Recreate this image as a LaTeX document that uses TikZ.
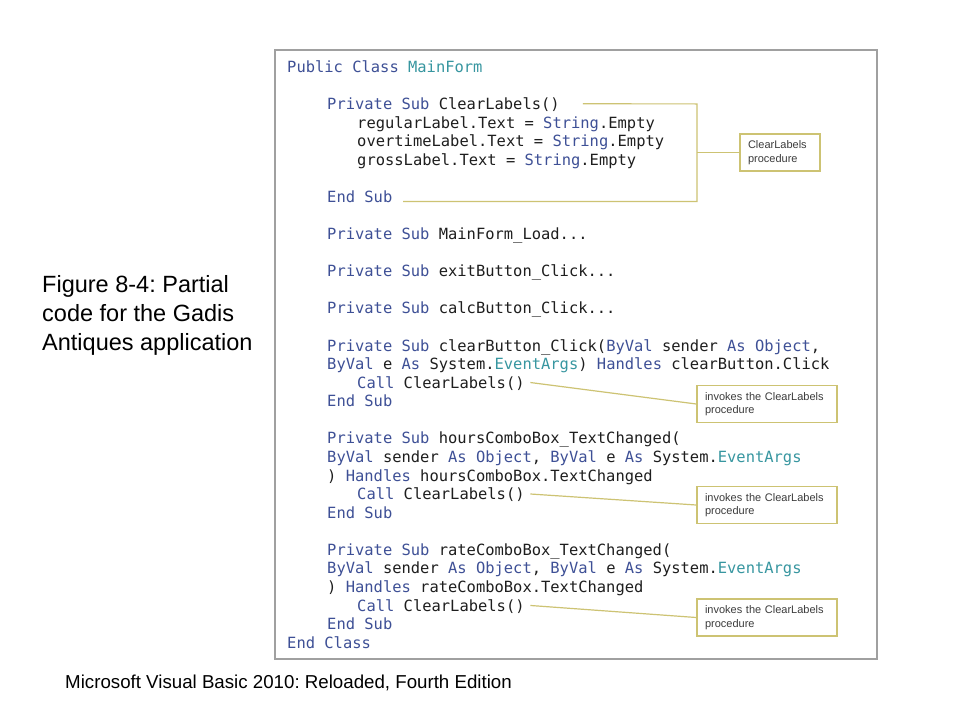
\documentclass[tikz,border=0pt]{standalone}
\usepackage{fontspec}
\setmainfont{Liberation Sans}
\newfontfamily\codefont{DejaVu Sans Mono}
\definecolor{kwc}{RGB}{62,80,150}
\definecolor{tyc}{RGB}{55,150,160}
\definecolor{codetxt}{RGB}{30,30,30}
\definecolor{calc}{RGB}{205,195,115}
\definecolor{framec}{RGB}{160,160,160}
\definecolor{boxtxt}{RGB}{60,60,60}
\newcommand\KW[1]{\textcolor{kwc}{#1}}
\newcommand\TY[1]{\textcolor{tyc}{#1}}
\frenchspacing
\begin{document}
\begin{tikzpicture}[x=1pt,y=-1pt,
  codeline/.style={anchor=base west, inner sep=0pt, font=\codefont\fontsize{15.45}{18}\selectfont, text=codetxt, text height=11.3pt, text depth=0pt},
  callout/.style={draw=calc, line width=1.2pt},
  cbox/.style={draw=calc, line width=1.4pt, fill=white, inner xsep=8pt, inner ysep=0pt, align=left, font=\fontsize{11}{13.5}\selectfont, text=boxtxt},
  captxt/.style={anchor=base west, inner sep=0pt, font=\fontsize{23.5}{28}\selectfont, text=black}
]
\useasboundingbox[fill=white] (0,0) rectangle (960,720);
% frame
\draw[framec, line width=2pt] (275,50) rectangle (877,659);
% code lines
\newcommand\ly[1]{72.3+18.58*#1}
\node[codeline] (l0) at (287,{\ly{0}}) {\KW{Public Class} \TY{MainForm}};
\node[codeline] (l2) at (327,{\ly{2}}) {\KW{Private Sub} ClearLabels()};
\node[codeline] (l3) at (357,{\ly{3}}) {regularLabel.Text = \KW{String}.Empty};
\node[codeline] (l4) at (357,{\ly{4}}) {overtimeLabel.Text = \KW{String}.Empty};
\node[codeline] (l5) at (357,{\ly{5}}) {grossLabel.Text = \KW{String}.Empty};
\node[codeline] (l7) at (327,{\ly{7}}) {\KW{End Sub}};
\node[codeline] (l9) at (327,{\ly{9}}) {\KW{Private Sub} MainForm\_Load...};
\node[codeline] (l11) at (327,{\ly{11}}) {\KW{Private Sub} exitButton\_Click...};
\node[codeline] (l13) at (327,{\ly{13}}) {\KW{Private Sub} calcButton\_Click...};
\node[codeline] (l15) at (327,{\ly{15}}) {\KW{Private Sub} clearButton\_Click(\KW{ByVal} sender \KW{As Object},};
\node[codeline] (l16) at (327,{\ly{16}}) {\KW{ByVal} e \KW{As} System.\TY{EventArgs}) \KW{Handles} clearButton.Click};
\node[codeline] (l17) at (357,{\ly{17}}) {\KW{Call} ClearLabels()};
\node[codeline] (l18) at (327,{\ly{18}}) {\KW{End Sub}};
\node[codeline] (l20) at (327,{\ly{20}}) {\KW{Private Sub} hoursComboBox\_TextChanged(};
\node[codeline] (l21) at (327,{\ly{21}}) {\KW{ByVal} sender \KW{As Object}, \KW{ByVal} e \KW{As} System.\TY{EventArgs}};
\node[codeline] (l22) at (327,{\ly{22}}) {) \KW{Handles} hoursComboBox.TextChanged};
\node[codeline] (l23) at (357,{\ly{23}}) {\KW{Call} ClearLabels()};
\node[codeline] (l24) at (327,{\ly{24}}) {\KW{End Sub}};
\node[codeline] (l26) at (327,{\ly{26}}) {\KW{Private Sub} rateComboBox\_TextChanged(};
\node[codeline] (l27) at (327,{\ly{27}}) {\KW{ByVal} sender \KW{As Object}, \KW{ByVal} e \KW{As} System.\TY{EventArgs}};
\node[codeline] (l28) at (327,{\ly{28}}) {) \KW{Handles} rateComboBox.TextChanged};
\node[codeline] (l29) at (357,{\ly{29}}) {\KW{Call} ClearLabels()};
\node[codeline] (l30) at (327,{\ly{30}}) {\KW{End Sub}};
\node[codeline] (l31) at (287,{\ly{31}}) {\KW{End Class}};
% callout boxes
\node[cbox, minimum width=80pt, minimum height=37pt, text width=64pt] (cb1) at (780,152.5) {ClearLabels\\procedure};
\node[cbox, minimum width=140pt, minimum height=37.5pt, text width=124pt] (cb2) at (767,404) {invokes the ClearLabels\\procedure};
\node[cbox, minimum width=140pt, minimum height=37pt, text width=124pt] (cb3) at (767,505) {invokes the ClearLabels\\procedure};
\node[cbox, minimum width=140pt, minimum height=37pt, text width=124pt] (cb4) at (767,617.5) {invokes the ClearLabels\\procedure};
% bracket
\coordinate (bt) at ([xshift=23pt]l2.east);
\coordinate (btr) at (697,103.9);
\coordinate (bbr) at (697,201.5);
\coordinate (bb) at (403,201.5);
\coordinate (bj) at (697,152.5);
\draw[callout] (bt) -- (btr) -- (bbr) -- (bb);
\draw[callout] (bj) -- (cb1.west);
% call connectors
\draw[callout] ([xshift=5.5pt]l17.east) -- (cb2.west);
\draw[callout] ([xshift=5.5pt]l23.east) -- (cb3.west);
\draw[callout] ([xshift=5.5pt]l29.east) -- (cb4.west);
% caption
\node[captxt] (cap1) at (42,292) {Figure 8-4: Partial};
\node[captxt] (cap2) at (42,321) {code for the Gadis};
\node[captxt] (cap3) at (42,350.5) {Antiques application};
% footer
\node[anchor=base west, inner sep=0pt, font=\fontsize{18.7}{22}\selectfont] (foot) at (65,688) {Microsoft Visual Basic 2010: Reloaded, Fourth Edition};
\end{tikzpicture}
\end{document}
